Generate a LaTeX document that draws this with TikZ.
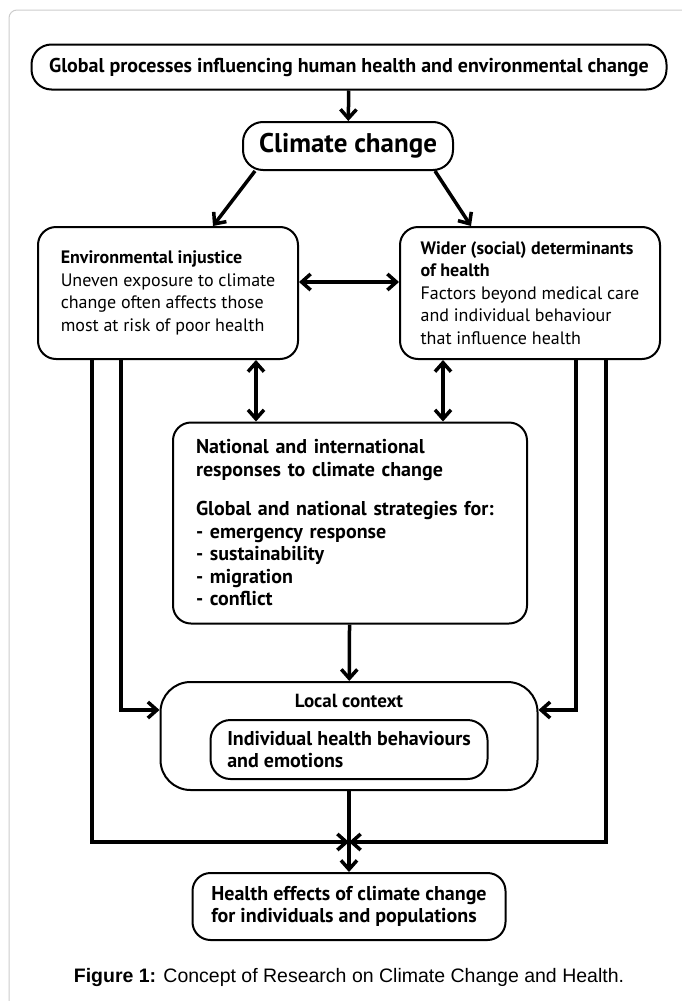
\documentclass[tikz,border=0pt]{standalone}
\usepackage{fontspec}
\setmainfont{PT Sans}
\newfontfamily\capfont{Liberation Sans}
\usetikzlibrary{arrows.meta}
\tikzset{
  box/.style={draw, line width=2pt, rounded corners=18pt, align=left,
    inner xsep=15pt, inner ysep=0pt, font=\fontsize{18}{22.5}\selectfont},
  boldbox/.style={box, font=\bfseries\fontsize{20}{22.5}\selectfont},
  arr/.style={-{Straight Barb[length=9pt,width=16pt]}, line width=3.5pt},
  dblarr/.style={{Straight Barb[length=9pt,width=16pt]}-{Straight Barb[length=9pt,width=16pt]}, line width=3.5pt},
}
\begin{document}
\begin{tikzpicture}[x=1pt,y=-1pt]
  \useasboundingbox (0,0) rectangle (681,1001);
  \draw[black!20, line width=1pt, rounded corners=8pt] (9,1010) -- (9,10) -- (690,10);
  % boxes
  \node[boldbox, minimum width=635, minimum height=45, rounded corners=20pt] (global) at (349,67)
    {Global processes influencing human health and environmental change};
  \node[box, minimum width=210, minimum height=48, align=center, rounded corners=20pt,
    font=\bfseries\fontsize{27}{30}\selectfont] (climate) at (348,146) {Climate change};
  \node[box, minimum width=260, minimum height=132] (env) at (168,293)
    {\textbf{Environmental injustice}\\ Uneven exposure to climate\\
     change often affects those\\ most at risk of poor health};
  \node[box, minimum width=260, minimum height=132, inner xsep=10pt] (wider) at (530,293)
    {\textbf{Wider (social) determinants}\\ \textbf{of health}\\ Factors beyond medical care\\
     and individual behaviour\\ that influence health};
  \node[boldbox, minimum width=354, minimum height=201, text width=308, inner xsep=23pt] (national) at (350,523)
    {National and international\\ responses to climate change\\[17pt]
     Global and national strategies for:\\ - emergency response\\ - sustainability\\
     - migration\\ - conflict};
  \node[box, minimum width=377, minimum height=108, rounded corners=30pt] (local) at (349,736) {};
  \node[font=\bfseries\fontsize{19}{22}\selectfont] (localtitle) at (349,701) {Local context};
  \node[boldbox, minimum width=277, minimum height=59, rounded corners=20pt] (behav) at (349,749.5)
    {Individual health behaviours\\ and emotions};
  \node[boldbox, minimum width=313, minimum height=67] (health) at (349,906.5)
    {Health effects of climate change\\ for individuals and populations};
  \node[font=\capfont\fontsize{19.5}{22}\selectfont] (caption) at (349,977)
    {\textbf{Figure 1:} Concept of Research on Climate Change and Health.};
  \coordinate (join) at (349,842);
  % connectors
  \draw[arr] (global) -- (climate);
  \draw[arr] (climate.south -| 255,0) -- (env.north -| 213,0);
  \draw[arr] (climate.south -| 435,0) -- (wider.north -| 471,0);
  \draw[dblarr] (env.east |- 0,282) -- (wider.west |- 0,282);
  \draw[dblarr] (env.south -| 256,0) -- (national.north -| 256,0);
  \draw[dblarr] (wider.south -| 443,0) -- (national.north -| 443,0);
  \draw[arr] (national) -- (local);
  \draw[arr] (env.south -| 121,0) |- (local.west |- 0,710);
  \draw[arr] (wider.south -| 576,0) |- (local.east |- 0,710);
  \draw[arr] (env.south -| 92,0) |- (join);
  \draw[arr] (wider.south -| 606,0) |- (join);
  \draw[arr] (local) -- (health);
\end{tikzpicture}
\end{document}
